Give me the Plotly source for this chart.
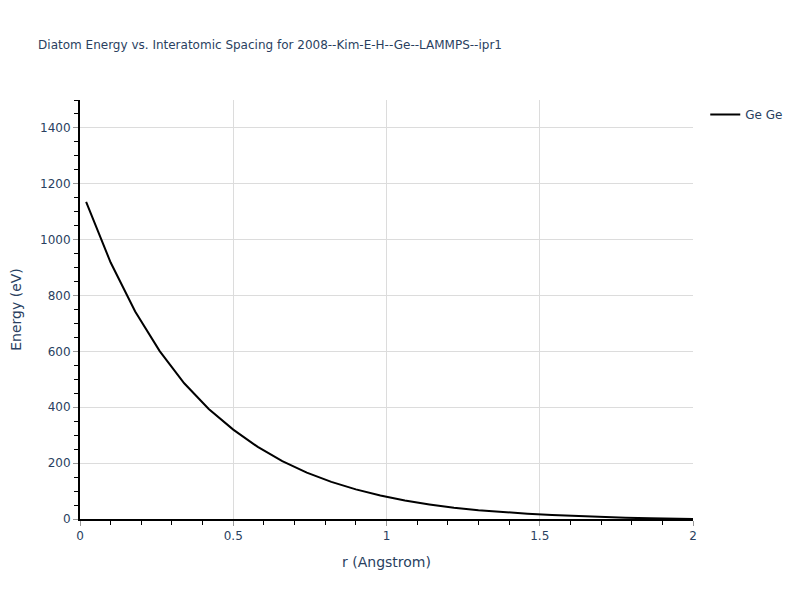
import plotly.graph_objects as go

r_values = [0.02, 0.10, 0.18, 0.26, 0.34, 0.42, 0.50, 0.58, 0.66, 0.74, 0.82, 0.90,
            0.98, 1.06, 1.14, 1.22, 1.30, 1.38, 1.46, 1.54, 1.62, 1.70, 1.78, 1.86,
            1.94, 2.00]
energy_values = [1135, 918, 743, 601, 486, 394, 320, 258, 207, 166, 133, 106,
                 84, 66, 52, 40, 31, 24, 19, 14, 10, 7, 4.5, 2.5,
                 1, 0]
series_name = "Ge Ge"
title_text = "Diatom Energy vs. Interatomic Spacing for 2008--Kim-E-H--Ge--LAMMPS--ipr1"

fig = go.Figure()
fig.add_trace(go.Scatter(x=r_values, y=energy_values, mode="lines", name=series_name,
                         line=dict(color="black", width=2), showlegend=True))

axis_common = dict(
    showline=True, linecolor="black", linewidth=2,
    showgrid=True, gridcolor="#dcdcdc", gridwidth=1,
    ticks="outside", tickcolor="#999999", ticklen=5, tickwidth=1,
    zeroline=False, automargin=False,
    tickfont=dict(color="#2a3f5f", size=12),
    title_font=dict(color="#2a3f5f", size=14),
)

fig.update_layout(
    title=dict(text=title_text, font=dict(size=12, color="#2a3f5f"),
               x=0.038, xanchor="left", xref="container",
               y=1 - 37 / 592, yanchor="middle", yref="container"),
    plot_bgcolor="white", paper_bgcolor="white",
    width=792, height=592,
    margin=dict(l=72, r=107, t=92, b=81),
    font=dict(family="DejaVu Sans, Verdana, sans-serif"),
    showlegend=True,
    xaxis=dict(title_text="r (Angstrom)", range=[0, 2], dtick=0.5,
               minor=dict(dtick=0.1, ticks="outside", ticklen=4, tickcolor="black", showgrid=False),
               **axis_common),
    yaxis=dict(title_text="Energy (eV)", range=[0, 1500], dtick=200,
               minor=dict(dtick=50, ticks="outside", ticklen=4, tickcolor="black", showgrid=False),
               **axis_common),
    legend=dict(font=dict(color="#2a3f5f", size=12)),
)

fig.write_html("out.html")
